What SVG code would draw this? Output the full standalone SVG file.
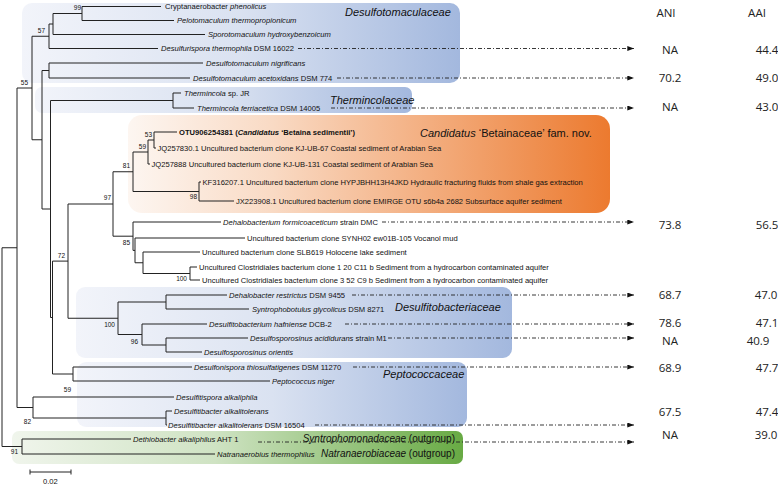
<svg xmlns="http://www.w3.org/2000/svg" width="778" height="485" viewBox="0 0 778 485">
<defs>
<linearGradient id="gBlue" x1="0" y1="0" x2="1" y2="0">
<stop offset="0" stop-color="#f2f4fa"/><stop offset="0.5" stop-color="#dae2f1"/><stop offset="1" stop-color="#a3b8de"/>
</linearGradient>
<linearGradient id="gOrange" x1="0" y1="0" x2="1" y2="0">
<stop offset="0" stop-color="#fdf6f1"/><stop offset="0.3" stop-color="#f9dac4"/><stop offset="1" stop-color="#ec7a2f"/>
</linearGradient>
<linearGradient id="gGreen" x1="0" y1="0" x2="1" y2="0">
<stop offset="0" stop-color="#f0f5ec"/><stop offset="0.45" stop-color="#cfe3c3"/><stop offset="1" stop-color="#68aa44"/>
</linearGradient>
<marker id="ah" viewBox="0 0 8 6" refX="8" refY="3" markerWidth="7" markerHeight="5" markerUnits="userSpaceOnUse" orient="auto">
<path d="M0 0 L8 3 L0 6 Z" fill="#111"/>
</marker>
<style>
.t{font-family:"Liberation Sans",Arial,sans-serif;font-size:7.6px;fill:#111}
.i{font-style:italic}
.b{font-weight:bold}
.bs{font-family:"Liberation Sans",Arial,sans-serif;font-size:6.5px;fill:#111;text-anchor:end}
.fam{font-family:"Liberation Sans",Arial,sans-serif;font-size:11px;font-style:italic;fill:#111}
.og{font-family:"Liberation Sans",Arial,sans-serif;font-size:10px;fill:#111;text-anchor:end}
.v{font-family:"Open Sans",sans-serif;font-size:11.5px;fill:#222;text-anchor:middle}
.br{stroke:#222;stroke-width:1;fill:none}
.ar{stroke:#222;stroke-width:0.9;fill:none;stroke-dasharray:4 2 1 2;marker-end:url(#ah)}
</style>
</defs>

<!-- family boxes -->
<g id="box-desulfotomaculaceae"><rect x="22" y="3" width="438" height="80" rx="10" fill="url(#gBlue)"/><text class="fam" x="345" y="16">Desulfotomaculaceae</text></g>
<g id="box-thermincolaceae"><rect x="35" y="87" width="377" height="26" rx="7" fill="url(#gBlue)"/><text class="fam" x="330" y="104">Thermincolaceae</text></g>
<g id="box-betainaceae"><rect x="128" y="115" width="482" height="98" rx="14" fill="url(#gOrange)"/><text class="fam" x="420" y="137">Candidatus <tspan font-style="normal">‘Betainaceae’ fam. nov.</tspan></text></g>
<g id="box-desulfitobacteriaceae"><rect x="76" y="287" width="436" height="71" rx="9" fill="url(#gBlue)"/><text class="fam" x="395" y="311">Desulfitobacteriaceae</text></g>
<g id="box-peptococcaceae"><rect x="77" y="362" width="390" height="65" rx="9" fill="url(#gBlue)"/><text class="fam" x="383" y="378">Peptococcaceae</text></g>
<g id="box-outgroup"><rect x="12" y="431" width="451" height="33" rx="7" fill="url(#gGreen)"/>
<text class="og" x="455" y="441.5"><tspan font-style="italic">Syntrophomonadaceae</tspan> (outgroup)</text>
<text class="og" x="455" y="456.5"><tspan font-style="italic">Natranaerobiaceae</tspan> (outgroup)</text></g>

<!-- tree branches -->
<g id="branches" class="br">
<path d="M161 6.5H82V20.5H174"/>
<path d="M82 13.5H53V34.5H205"/>
<path d="M53 24H49V48.5H158"/>
<path d="M203 63H49V78H190"/>
<path d="M181 93H173V108H194"/>
<path d="M177 132H154V148H156"/>
<path d="M154 140H148V164H150"/>
<path d="M201 182H199V201H234"/>
<path d="M148 152H133V191.5H199"/>
<path d="M197 267H190V280H200"/>
<path d="M200 252H143V273.5H190"/>
<path d="M245 238H135V262.75H143"/>
<path d="M221 222H133V250.4H135"/>
<path d="M133 171.75H113V236.2H133"/>
<path d="M227 295H166V309H249"/>
<path d="M248 338H166V352H202"/>
<path d="M207 324H142V345H166"/>
<path d="M166 302H118V334.5H142"/>
<path d="M113 204H68V318.25H118"/>
<path d="M192 367H73V381H270"/>
<path d="M68 261.1H52.5V374H73"/>
<path d="M173 100.5H50.5V317.5H52.5"/>
<path d="M49 70.5H42V209H50.5"/>
<path d="M49 36.25H32V139.75H42"/>
<path d="M172 411H166V425H167"/>
<path d="M174 397H33V418H166"/>
<path d="M32 88H17V407.5H33"/>
<path d="M131 439H22V454H215"/>
<path d="M17 247.75H2V446.5H22"/>
</g>

<!-- bootstrap values -->
<g id="bootstrap">
<text class="bs" x="81" y="9.5">99</text>
<text class="bs" x="45" y="33">57</text>
<text class="bs" x="28" y="85">55</text>
<text class="bs" x="152" y="137">53</text>
<text class="bs" x="146" y="149">59</text>
<text class="bs" x="130" y="168">81</text>
<text class="bs" x="197" y="199">98</text>
<text class="bs" x="111" y="200">97</text>
<text class="bs" x="130" y="245">85</text>
<text class="bs" x="187" y="281">100</text>
<text class="bs" x="65" y="258">72</text>
<text class="bs" x="115" y="327">100</text>
<text class="bs" x="138" y="344">96</text>
<text class="bs" x="71" y="392">59</text>
<text class="bs" x="31" y="424">82</text>
<text class="bs" x="18" y="454">91</text>
</g>

<!-- leaves -->
<g id="leaf-cryptanaerobacter"><text class="t" x="165" y="9">Cryptanaerobacter <tspan class="i">phenolicus</tspan></text></g>
<g id="leaf-pelotomaculum"><text class="t i" x="177" y="23">Pelotomaculum thermopropionicum</text></g>
<g id="leaf-sporotomaculum"><text class="t i" x="208" y="37">Sporotomaculum hydroxybenzoicum</text></g>
<g id="leaf-desulfurispora"><text class="t" x="161" y="51"><tspan class="i">Desulfurispora thermophila</tspan> DSM 16022</text></g>
<g id="leaf-dnigrificans"><text class="t i" x="206" y="65.5">Desulfotomaculum nigrificans</text></g>
<g id="leaf-dacetoxidans"><text class="t" x="193" y="80.5"><tspan class="i">Desulfotomaculum acetoxidans</tspan> DSM 774</text></g>
<g id="leaf-thermincola-jr"><text class="t" x="184" y="95.5"><tspan class="i">Thermincola</tspan> sp. JR</text></g>
<g id="leaf-thermincola-ferri"><text class="t" x="197" y="110.5"><tspan class="i">Thermincola ferriacetica</tspan> DSM 14005</text></g>
<g id="leaf-otu"><text class="t b" x="179" y="134.5">OTU906254381 (<tspan class="i">Candidatus</tspan> ‘Betaina sedimentii’)</text></g>
<g id="leaf-jq257830"><text class="t" x="157.5" y="150.5">JQ257830.1 Uncultured bacterium clone KJ-UB-67 Coastal sediment of Arabian Sea</text></g>
<g id="leaf-jq257888"><text class="t" x="151.5" y="166.5">JQ257888 Uncultured bacterium clone KJ-UB-131 Coastal sediment of Arabian Sea</text></g>
<g id="leaf-kf316207"><text class="t" x="202.5" y="184.5">KF316207.1 Uncultured bacterium clone HYPJBHH13H4JKD Hydraulic fracturing fluids from shale gas extraction</text></g>
<g id="leaf-jx223908"><text class="t" x="236" y="203.5">JX223908.1 Uncultured bacterium clone EMIRGE OTU s6b4a 2682 Subsurface aquifer sediment</text></g>
<g id="leaf-dehalobacterium"><text class="t" x="223" y="224.5"><tspan class="i">Dehalobacterium formicoaceticum</tspan> strain DMC</text></g>
<g id="leaf-synh02"><text class="t" x="247" y="240.5">Uncultured bacterium clone SYNH02 ew01B-105 Vocanol mud</text></g>
<g id="leaf-slb619"><text class="t" x="202" y="254.5">Uncultured bacterium clone SLB619 Holocene lake sediment</text></g>
<g id="leaf-c11"><text class="t" x="199" y="269.5">Uncultured Clostridiales bacterium clone 1 20 C11 b Sediment from a hydrocarbon contaminated aquifer</text></g>
<g id="leaf-c9"><text class="t" x="202" y="282.5">Uncultured Clostridiales bacterium clone 3 52 C9 b Sediment from a hydrocarbon contaminated aquifer</text></g>
<g id="leaf-dehalobacter"><text class="t" x="229" y="297.5"><tspan class="i">Dehalobacter restrictus</tspan> DSM 9455</text></g>
<g id="leaf-syntrophobotulus"><text class="t" x="252" y="311.5"><tspan class="i">Syntrophobotulus glycolicus</tspan> DSM 8271</text></g>
<g id="leaf-desulfitobacterium"><text class="t" x="209" y="326.5"><tspan class="i">Desulfitobacterium hafniense</tspan> DCB-2</text></g>
<g id="leaf-dacididurans"><text class="t" x="250" y="340.5"><tspan class="i">Desulfosporosinus acididurans</tspan> strain M1</text></g>
<g id="leaf-dorientis"><text class="t i" x="204" y="354.5">Desulfosporosinus orientis</text></g>
<g id="leaf-desulfonispora"><text class="t" x="194" y="369.5"><tspan class="i">Desulfonispora thiosulfatigenes</tspan> DSM 11270</text></g>
<g id="leaf-peptococcus"><text class="t i" x="272" y="383.5">Peptococcus niger</text></g>
<g id="leaf-desulfitispora"><text class="t i" x="176" y="399.5">Desulfitispora alkaliphila</text></g>
<g id="leaf-desulfitibacter"><text class="t i" x="174" y="413.5">Desulfitibacter alkalitolerans</text></g>
<g id="leaf-desulfitibacter-dsm"><text class="t" x="168" y="427.5"><tspan class="i">Desulfitibacter alkalitolerans</tspan> DSM 16504</text></g>
<g id="leaf-dethiobacter"><text class="t" x="133" y="441.5"><tspan class="i">Dethiobacter alkaliphilus</tspan> AHT 1</text></g>
<g id="leaf-natranaerobius"><text class="t i" x="217" y="456.5">Natranaerobius thermophilus</text></g>

<!-- scale bar -->
<g id="scale-bar"><path class="br" d="M30 472H71M30 469.5V474.5M71 469.5V474.5"/><text class="t" x="43" y="484" font-size="6.5">0.02</text></g>

<!-- dash-dot arrows -->
<g id="connectors">
<path class="ar" d="M298 48.5H634"/>
<path class="ar" d="M337 78H634"/>
<path class="ar" d="M331 108H634"/>
<path class="ar" d="M382 222H634"/>
<path class="ar" d="M352 295H634"/>
<path class="ar" d="M345 324H634"/>
<path class="ar" d="M388 338H634"/>
<path class="ar" d="M353 367H634"/>
<path class="ar" d="M315 425H634"/>
<path class="ar" d="M258 442H634"/>
</g>

<!-- ANI / AAI table -->
<g id="table">
<text class="v" x="666" y="17">ANI</text><text class="v" x="757" y="17">AAI</text>
<text class="v" x="670" y="54">NA</text><text class="v" x="767" y="54">44.4</text>
<text class="v" x="670" y="82">70.2</text><text class="v" x="767" y="82">49.0</text>
<text class="v" x="670" y="111">NA</text><text class="v" x="767" y="111">43.0</text>
<text class="v" x="670" y="229">73.8</text><text class="v" x="767" y="229">56.5</text>
<text class="v" x="670" y="299">68.7</text><text class="v" x="766" y="299">47.0</text>
<text class="v" x="670" y="327">78.6</text><text class="v" x="767" y="327">47.1</text>
<text class="v" x="670" y="345">NA</text><text class="v" x="758" y="345">40.9</text>
<text class="v" x="670" y="372">68.9</text><text class="v" x="767" y="372">47.7</text>
<text class="v" x="670" y="416">67.5</text><text class="v" x="767" y="416">47.4</text>
<text class="v" x="670" y="439">NA</text><text class="v" x="766" y="439">39.0</text>
</g>
</svg>
